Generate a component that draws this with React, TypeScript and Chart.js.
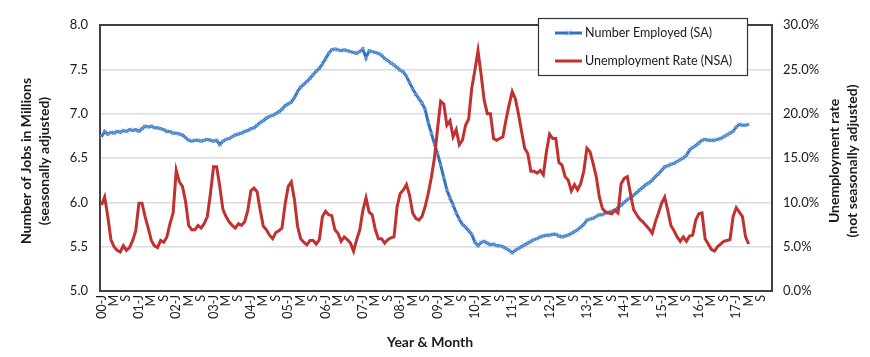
import React, { useEffect, useRef } from "react";
import { Chart, registerables } from "chart.js";

Chart.register(...registerables);

// Category axis: Jan 2000 .. Dec 2017, a label every 4 months
const YEARS = ["00","01","02","03","04","05","06","07","08","09","10","11","12","13","14","15","16","17"];
const MONTH_MARKS = ["J","","","","M","","","","S","","",""];
const LABELS: string[] = YEARS.flatMap((y) => MONTH_MARKS.map((m, k) => (k === 0 ? `${y}-J` : m)));

// Number employed (millions, SA), Jan 2000 .. May 2017
const EMPLOYED = [
  6.74, 6.80, 6.77, 6.79, 6.78, 6.80, 6.79, 6.81, 6.80, 6.82, 6.81, 6.82,
  6.80, 6.83, 6.86, 6.85, 6.86, 6.84, 6.84, 6.83, 6.82, 6.80, 6.80, 6.78,
  6.78, 6.77, 6.76, 6.73, 6.70, 6.69, 6.70, 6.70, 6.69, 6.70, 6.71, 6.70,
  6.69, 6.70, 6.65, 6.69, 6.71, 6.72, 6.74, 6.76, 6.77, 6.78, 6.80, 6.81,
  6.83, 6.84, 6.87, 6.90, 6.92, 6.95, 6.97, 6.98, 7.00, 7.02, 7.05, 7.09,
  7.11, 7.13, 7.18, 7.25, 7.30, 7.33, 7.36, 7.40, 7.44, 7.48, 7.51, 7.56,
  7.62, 7.68, 7.72, 7.73, 7.72, 7.71, 7.72, 7.71, 7.70, 7.69, 7.68, 7.70,
  7.73, 7.63, 7.71, 7.70, 7.69, 7.68, 7.66, 7.62, 7.60, 7.57, 7.55, 7.52,
  7.49, 7.47, 7.42, 7.35, 7.28, 7.22, 7.17, 7.12, 7.05, 6.90, 6.78, 6.66,
  6.55, 6.42, 6.28, 6.14, 6.05, 5.97, 5.88, 5.81, 5.75, 5.72, 5.68, 5.64,
  5.55, 5.51, 5.55, 5.56, 5.54, 5.52, 5.53, 5.51, 5.51, 5.50, 5.48, 5.46,
  5.43, 5.46, 5.48, 5.50, 5.52, 5.54, 5.56, 5.58, 5.59, 5.61, 5.62, 5.63,
  5.63, 5.64, 5.64, 5.62, 5.61, 5.62, 5.63, 5.65, 5.67, 5.69, 5.72, 5.75,
  5.80, 5.81, 5.82, 5.84, 5.86, 5.86, 5.88, 5.89, 5.90, 5.91, 5.94, 5.97,
  6.00, 6.03, 6.05, 6.08, 6.11, 6.14, 6.17, 6.20, 6.22, 6.25, 6.29, 6.32,
  6.36, 6.40, 6.41, 6.43, 6.44, 6.46, 6.48, 6.50, 6.53, 6.59, 6.62, 6.64,
  6.67, 6.70, 6.71, 6.70, 6.70, 6.70, 6.71, 6.72, 6.74, 6.76, 6.78, 6.80,
  6.85, 6.88, 6.87, 6.87, 6.88,
];

// Unemployment rate (%, NSA), Jan 2000 .. May 2017
const UNEMP_RATE = [
  9.7, 10.6, 8.4, 5.8, 5.0, 4.6, 4.4, 5.1, 4.6, 4.9, 5.7, 6.8,
  9.9, 9.9, 8.4, 7.1, 5.7, 5.1, 4.9, 5.7, 5.5, 6.1, 7.6, 8.8,
  13.6, 12.3, 11.8, 10.1, 7.4, 6.9, 6.9, 7.4, 7.1, 7.6, 8.4, 11.0,
  14.0, 14.0, 11.8, 9.2, 8.4, 7.8, 7.4, 7.1, 7.6, 7.4, 7.8, 9.1,
  11.3, 11.6, 11.2, 9.1, 7.3, 6.9, 6.3, 5.9, 6.6, 6.8, 7.1, 9.8,
  11.8, 12.3, 10.3, 7.3, 5.9, 5.5, 5.2, 5.7, 5.7, 5.3, 5.8, 8.4,
  9.0, 8.6, 8.5, 6.9, 6.5, 5.6, 6.1, 5.8, 5.4, 4.5, 5.8, 6.9,
  9.1, 10.5, 8.9, 8.6, 6.9, 5.9, 5.9, 5.4, 5.8, 6.0, 6.1, 9.5,
  11.0, 11.4, 12.0, 10.8, 8.8, 8.2, 8.0, 8.4, 9.5, 11.0, 12.8, 15.0,
  18.3, 21.4, 21.1, 18.7, 19.2, 17.4, 18.2, 16.5, 17.0, 18.7, 19.4, 22.9,
  24.9, 27.1, 24.4, 21.5, 20.0, 20.0, 17.2, 17.0, 17.2, 17.4, 19.3, 21.0,
  22.5, 21.7, 20.0, 18.0, 16.1, 15.5, 13.5, 13.5, 13.3, 13.6, 13.1, 15.7,
  17.7, 17.2, 17.2, 14.5, 14.2, 12.9, 12.5, 11.3, 12.0, 11.4, 12.1, 13.5,
  16.1, 15.7, 14.4, 12.9, 10.6, 9.3, 8.9, 8.8, 8.7, 9.1, 8.8, 12.1,
  12.7, 12.9, 11.0, 9.2, 8.6, 8.1, 7.8, 7.4, 7.0, 6.5, 7.8, 8.8,
  9.9, 10.6, 9.1, 7.4, 6.8, 6.1, 5.6, 6.1, 5.6, 6.2, 6.3, 8.0,
  8.7, 8.8, 5.9, 5.3, 4.7, 4.5, 5.0, 5.3, 5.6, 5.7, 5.8, 8.4,
  9.4, 8.9, 8.4, 6.1, 5.3,
];

const LEFT_TICK_STEP = 0.5;
const RIGHT_TICK_STEP = 5;

const BLUE = "#3470be";
const BLUE_MARK = "#78ade3";
const RED = "#c0312f";
const FONT = "Lato, 'DejaVu Sans', sans-serif";
const TEXT = "#1a1a1a";

const decorPlugin = {
  id: "decor",
  beforeDatasetsDraw(chart: any) {
    const { ctx, chartArea: a } = chart;
    ctx.save();
    ctx.strokeStyle = "#404040";
    ctx.lineWidth = 2;
    ctx.strokeRect(a.left, a.top, a.right - a.left, a.bottom - a.top);
    ctx.restore();
  },
  afterDraw(chart: any) {
    const { ctx, chartArea: a } = chart;
    ctx.save();
    // Legend
    const lx = 538, ly = 18, lw = 209, lh = 57;
    ctx.fillStyle = "#fff";
    ctx.fillRect(lx, ly, lw, lh);
    ctx.strokeStyle = "#333";
    ctx.lineWidth = 1.2;
    ctx.strokeRect(lx + 0.5, ly + 0.5, lw, lh);
    const rows = [
      { y: 33, color: BLUE, text: "Number Employed (SA)", mark: true },
      { y: 61, color: RED, text: "Unemployment Rate (NSA)", mark: false },
    ];
    for (const r of rows) {
      ctx.strokeStyle = r.color;
      ctx.lineWidth = 3;
      ctx.beginPath();
      ctx.moveTo(555, r.y);
      ctx.lineTo(582, r.y);
      ctx.stroke();
      if (r.mark) {
        ctx.strokeStyle = BLUE_MARK;
        ctx.lineWidth = 1;
        ctx.beginPath();
        ctx.moveTo(566, r.y - 2.8);
        ctx.lineTo(571.5, r.y + 2.8);
        ctx.moveTo(566, r.y + 2.8);
        ctx.lineTo(571.5, r.y - 2.8);
        ctx.stroke();
      }
      ctx.fillStyle = TEXT;
      ctx.font = `12.5px ${FONT}`;
      ctx.textBaseline = "middle";
      ctx.textAlign = "left";
      ctx.fillText(r.text, 585, r.y);
    }
    // Axis titles
    ctx.font = `bold 14px ${FONT}`;
    ctx.fillStyle = TEXT;
    ctx.textAlign = "center";
    ctx.textBaseline = "middle";
    const cy = (a.top + a.bottom) / 2 + 3;
    const vtext = (x: number, t: string) => {
      ctx.save();
      ctx.translate(x, cy);
      ctx.rotate(-Math.PI / 2);
      ctx.fillText(t, 0, 0);
      ctx.restore();
    };
    vtext(26, "Number of Jobs in Millions");
    vtext(44, "(seasonally adjusted)");
    vtext(834, "Unemployment rate");
    vtext(852, "(not seasonally adjusted)");
    ctx.fillText("Year & Month", 430, 342);
    ctx.restore();
  },
};

export default function App() {
  const ref = useRef<HTMLCanvasElement | null>(null);
  useEffect(() => {
    if (!ref.current) return;
    const chart = new Chart(ref.current, {
      type: "line",
      data: {
        labels: LABELS,
        datasets: [
          {
            label: "Number Employed (SA)",
            data: EMPLOYED,
            yAxisID: "y",
            borderColor: BLUE,
            borderWidth: 3,
            pointStyle: "crossRot",
            pointRadius: 2.8,
            pointBorderColor: BLUE_MARK,
            pointBackgroundColor: BLUE_MARK,
            pointBorderWidth: 0.8,
            tension: 0,
            order: 1,
          },
          {
            label: "Unemployment Rate (NSA)",
            data: UNEMP_RATE,
            yAxisID: "y1",
            borderColor: RED,
            borderWidth: 3,
            pointRadius: 0,
            tension: 0,
            order: 0,
          },
        ],
      },
      options: {
        responsive: false,
        animation: false,
        layout: { padding: { top: 25, left: 0, right: 0, bottom: 0 } },
        plugins: { legend: { display: false }, tooltip: { enabled: false } },
        scales: {
          x: {
            type: "category",
            offset: true,
            grid: { display: false, drawTicks: false },
            border: { display: false },
            ticks: {
              autoSkip: false,
              maxRotation: 90,
              minRotation: 90,
              padding: 4,
              color: TEXT,
              font: { family: FONT, size: 12.5 },
            },
            afterFit(s: any) {
              s.height = 66;
            },
          },
          y: {
            position: "left",
            min: 5,
            max: 8,
            ticks: {
              stepSize: LEFT_TICK_STEP,
              padding: 12,
              color: TEXT,
              font: { family: FONT, size: 13 },
              callback: (v: any) => Number(v).toFixed(1),
            },
            grid: { color: "#dcdcdc", lineWidth: 1.5, drawTicks: false },
            border: { display: false },
            afterFit(s: any) {
              s.width = 100;
            },
          },
          y1: {
            position: "right",
            min: 0,
            max: 30,
            ticks: {
              stepSize: RIGHT_TICK_STEP,
              padding: 11,
              color: TEXT,
              font: { family: FONT, size: 13 },
              callback: (v: any) => Number(v).toFixed(1) + "%",
            },
            grid: { display: false, drawTicks: false },
            border: { display: false },
            afterFit(s: any) {
              s.width = 98;
            },
          },
        },
      },
      plugins: [decorPlugin],
    });
    return () => chart.destroy();
  }, []);
  return (
    <div style={{ position: "absolute", left: 0, top: 0, width: 870, height: 357, background: "#fff" }}>
      <canvas ref={ref} width={870} height={357} />
    </div>
  );
}
